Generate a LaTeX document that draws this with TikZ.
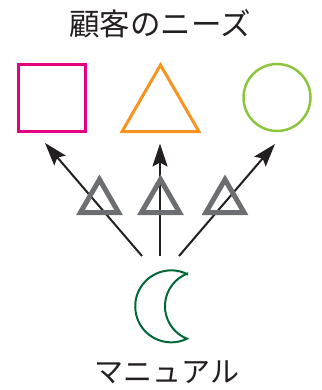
\documentclass[tikz,border=0pt]{standalone}
\usepackage{fontspec}
\newfontfamily\jpfont{Noto Sans CJK JP}
\usetikzlibrary{positioning}
\usetikzlibrary{shapes.geometric, arrows.meta}

\definecolor{needpink}{HTML}{E4007F}
\definecolor{needorange}{HTML}{F7931E}
\definecolor{needgreen}{HTML}{8CC63F}
\definecolor{moongreen}{HTML}{006837}
\definecolor{markgray}{HTML}{6D6E71}
\definecolor{inkblack}{HTML}{231F20}

\begin{document}
\begin{tikzpicture}[x=1pt, y=-1pt]

    \tikzset{
        caption/.style={
            font=\jpfont\fontsize{29}{29}\selectfont,
            text=inkblack,
            inner sep=0pt
        },
        need/.style={
            draw,
            line width=3pt,
            inner sep=0pt,
            outer sep=0pt
        },
        tri/.style={
            need,
            regular polygon,
            regular polygon sides=3
        },
        warn/.style={
            tri,
            draw=markgray,
            line width=5pt,
            minimum size=44pt
        },
        pointer/.style={
            draw=inkblack,
            line width=2pt,
            -{Stealth[length=23pt, width=15pt, inset=4pt]}
        }
    }
    \useasboundingbox (0,0) rectangle (321,390);

    % needs of the customer
    \node[caption, font=\jpfont\fontsize{30.5}{30.5}\selectfont] (title) at (160,24) {顧客のニーズ};
    \node[need, draw=needpink, rectangle, minimum size=67pt] (square) at (52,98) {};
    \node[tri, draw=needorange, minimum size=89pt] (triangle) at (160.5,109.5) {};
    \node[need, draw=needgreen, circle, line width=2.5pt, minimum size=67pt] (circ) at (277,97.5) {};

    % the manual
    \coordinate (moon) at (171,306.5);
    \draw[moongreen, line width=2pt] (187,274) arc[start angle=-64, end angle=-296, radius=36]
        arc[start angle=111.8, end angle=248.2, radius=35] -- cycle;
    \node[caption] (manual) at (167,372) {マニュアル};

    % arrows
    \coordinate (t1) at (142,256);
    \coordinate (t2) at (160,256);
    \coordinate (t3) at (179,256);
    \coordinate (h1) at (45,143);
    \coordinate (h2) at (160,143.5);
    \coordinate (h3) at (275,144);

    \draw[pointer] (t1) -- (h1);
    \draw[pointer] (t2) -- (h2);
    \draw[pointer] (t3) -- (h3);

    % gaps
    \node[warn] (w1) at (99.5,201.5) {};
    \node[warn] (w2) at (160.5,201.5) {};
    \node[warn] (w3) at (225,201.5) {};

\end{tikzpicture}
\end{document}
